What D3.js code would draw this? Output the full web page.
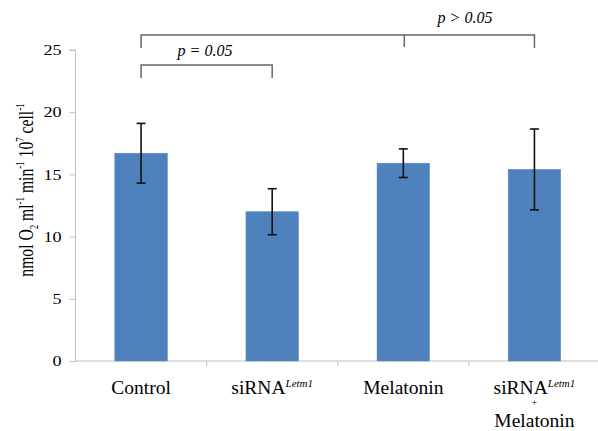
<!DOCTYPE html>
<html><head><meta charset="utf-8">
<script src="https://cdn.jsdelivr.net/npm/d3@7"></script>
<style>body{margin:0;background:#fff}svg{display:block}svg text{font-family:"Liberation Serif","Times New Roman","DejaVu Serif",serif !important}</style>
</head><body>
<svg id="c" width="598" height="431"></svg>
<script>
const categories = ["Control", "siRNA", "Melatonin", "siRNA+Melatonin"];
const means = [16.7, 12.0, 15.9, 15.4];
const errors = [2.4, 1.85, 1.15, 3.25];
const yTicks = [0, 5, 10, 15, 20, 25];
const brackets = [
  {from: 0, to: 1, mid: null, label: "p = 0.05", level: 0},
  {from: 0, to: 3, mid: 2, label: "p > 0.05", level: 1}
];

const FONT = "'Liberation Serif', 'Times New Roman', 'DejaVu Serif', serif";
const svg = d3.select("#c").attr("font-family", FONT);
const m = {l: 75.5, r: -2};
const W = 598;
const x = d3.scaleBand().domain(categories).range([m.l, W - m.r]).paddingInner(0).paddingOuter(0);
const y = d3.scaleLinear().domain([0, 25]).range([361, 50]);
const axisCol = "#bfbfbf";

// y axis
const ya = svg.append("g").attr("transform", `translate(${m.l},0)`)
  .call(d3.axisLeft(y).tickValues(yTicks).tickSize(6).tickPadding(8));
ya.attr("font-family", FONT);
ya.select(".domain").attr("stroke", axisCol).attr("d", `M-6,${y(25)}H0V${y(0)}`);
ya.selectAll(".tick line").attr("stroke", axisCol);
ya.selectAll(".tick text").attr("fill", "#000").style("font-size", "14.5px")
  .attr("x", -14 / 1.25).attr("transform", "scale(1.25,1)");

// x axis
const xa = svg.append("g").attr("transform", `translate(0,${y(0)})`);
xa.append("line").attr("x1", m.l).attr("x2", W).attr("y1", 0).attr("y2", 0).attr("stroke", axisCol);
categories.forEach((c, i) => {
  if (i > 0) {
    const xx = x(c);
    xa.append("line").attr("x1", xx).attr("x2", xx).attr("y1", 0).attr("y2", 5).attr("stroke", axisCol);
  }
});

// bars
const bw = x.bandwidth() * 0.4;
svg.append("g").selectAll("rect").data(means).join("rect")
  .attr("x", (d, i) => x(categories[i]) + x.bandwidth() / 2 - bw / 2)
  .attr("y", d => y(d))
  .attr("width", bw)
  .attr("height", d => y(0) - y(d))
  .attr("fill", "#4f81bd")
  .attr("stroke", "#5b8cc6").attr("stroke-width", 0.6);

// error bars
const eg = svg.append("g").attr("stroke", "#111").attr("stroke-width", 1.6);
means.forEach((d, i) => {
  const cx = x(categories[i]) + x.bandwidth() / 2;
  const hi = y(d + errors[i]), lo = y(d - errors[i]);
  eg.append("line").attr("x1", cx).attr("x2", cx).attr("y1", hi).attr("y2", lo);
  eg.append("line").attr("x1", cx - 4.5).attr("x2", cx + 4.5).attr("y1", hi).attr("y2", hi);
  eg.append("line").attr("x1", cx - 4.5).attr("x2", cx + 4.5).attr("y1", lo).attr("y2", lo);
});

// x labels
const cx = i => x(categories[i]) + x.bandwidth() / 2;
const lab = svg.append("g").attr("text-anchor", "middle").style("font-size", "19.5px").attr("fill", "#000");
function sirna(g, xx, yy) {
  const t = g.append("text").attr("x", xx).attr("y", yy);
  t.append("tspan").text("siRNA");
  t.append("tspan").attr("dy", -7).style("font-size", "11px").style("font-style", "italic").text("Letm1");
}
lab.append("text").attr("x", cx(0)).attr("y", 394).text("Control");
sirna(lab, cx(1), 394);
lab.append("text").attr("x", cx(2)).attr("y", 394).text("Melatonin");
sirna(lab, cx(3), 394);
lab.append("text").attr("x", cx(3)).attr("y", 406).style("font-size", "10px").text("+");
lab.append("text").attr("x", cx(3)).attr("y", 427).text("Melatonin");

// y title
const yt = svg.append("text").attr("transform", "translate(33,190) rotate(-90) scale(0.745,1)")
  .attr("text-anchor", "middle").style("font-size", "21px").attr("fill", "#000");
yt.append("tspan").text("nmol O");
yt.append("tspan").attr("dy", 5).style("font-size", "12px").text("2");
yt.append("tspan").attr("dy", -5).text(" ml");
yt.append("tspan").attr("dy", -9).style("font-size", "12px").text("-1");
yt.append("tspan").attr("dy", 9).text(" min");
yt.append("tspan").attr("dy", -9).style("font-size", "12px").text("-1");
yt.append("tspan").attr("dy", 9).text(" 10");
yt.append("tspan").attr("dy", -9).style("font-size", "12px").text("7");
yt.append("tspan").attr("dy", 9).text(" cell");
yt.append("tspan").attr("dy", -9).style("font-size", "12px").text("-1");

// brackets
const bg = svg.append("g");
const levelY = [65, 35];
brackets.forEach(b => {
  const yy = levelY[b.level];
  const x1 = cx(b.from), x2 = cx(b.to);
  const p = d3.path();
  p.moveTo(x1, yy + 13); p.lineTo(x1, yy); p.lineTo(x2, yy); p.lineTo(x2, yy + 13);
  if (b.mid !== null) { p.moveTo(cx(b.mid) + 1, yy); p.lineTo(cx(b.mid) + 1, yy + 12); }
  bg.append("path").attr("d", p.toString()).attr("fill", "none").attr("stroke", "#666").attr("stroke-width", 1.5);
});
bg.append("text").attr("x", 205).attr("y", 56).attr("text-anchor", "middle")
  .style("font-size", "16px").style("font-style", "italic").text(brackets[0].label);
bg.append("text").attr("x", 465).attr("y", 23).attr("text-anchor", "middle")
  .style("font-size", "16px").style("font-style", "italic").text(brackets[1].label);
</script>
</body></html>
